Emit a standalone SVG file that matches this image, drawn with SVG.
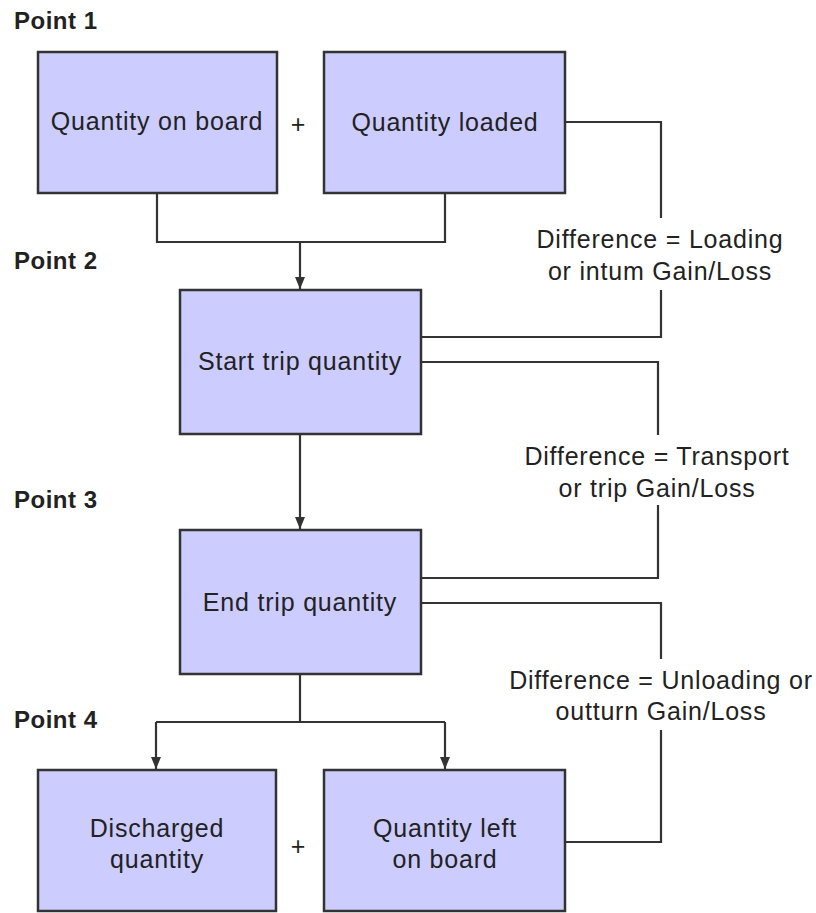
<svg xmlns="http://www.w3.org/2000/svg" width="816" height="913" viewBox="0 0 816 913">
<style>
.box{fill:#ccccff;stroke:#333333;stroke-width:2.5}
.lbl{font-family:"Liberation Sans",Arial,sans-serif;font-size:25px;fill:#222222;text-anchor:middle;letter-spacing:0.8px}
.plus{font-family:"Liberation Sans",Arial,sans-serif;font-size:25px;fill:#222222;text-anchor:middle}
.pt{font-family:"Liberation Sans",Arial,sans-serif;font-size:24px;font-weight:bold;fill:#222222;letter-spacing:0.5px}
.ln{fill:none;stroke:#333333;stroke-width:2.2}
</style>
<defs>
<marker id="arr" viewBox="0 0 12 10" refX="12" refY="5" markerWidth="12" markerHeight="10" markerUnits="userSpaceOnUse" orient="auto">
<path d="M0,0 L12,5 L0,10 z" fill="#333333"/>
</marker>
</defs>
<rect width="816" height="913" fill="#ffffff"/>
<g id="point-labels">
<text class="pt" x="14" y="29">Point 1</text>
<text class="pt" x="14" y="269">Point 2</text>
<text class="pt" x="14" y="508">Point 3</text>
<text class="pt" x="14" y="728">Point 4</text>
</g>
<g id="connectors">
<path class="ln" d="M157,193 V242 H445 V193"/>
<path class="ln" d="M300,242 V289" marker-end="url(#arr)"/>
<path class="ln" d="M300,434 V529" marker-end="url(#arr)"/>
<path class="ln" d="M300,674 V722 M156,722 H445"/>
<path class="ln" d="M156,722 V769" marker-end="url(#arr)"/>
<path class="ln" d="M445,722 V769" marker-end="url(#arr)"/>
<path class="ln" d="M565,122 H661 V218 M661,290 V337 H421"/>
<path class="ln" d="M421,362 H658 V435 M658,505 V578 H421"/>
<path class="ln" d="M421,603 H661 V659 M661,730 V842 H565"/>
</g>
<g id="node-on-board">
<rect class="box" x="38" y="52" width="239" height="141"/>
<text class="lbl" x="157" y="130">Quantity on board</text>
</g>
<g id="plus-top"><text class="plus" x="298" y="133">+</text></g>
<g id="node-loaded">
<rect class="box" x="324" y="52" width="241" height="141"/>
<text class="lbl" x="445" y="131">Quantity loaded</text>
</g>
<g id="node-start-trip">
<rect class="box" x="180" y="290" width="241" height="144"/>
<text class="lbl" x="300" y="370">Start trip quantity</text>
</g>
<g id="node-end-trip">
<rect class="box" x="180" y="530" width="241" height="144"/>
<text class="lbl" x="300" y="611">End trip quantity</text>
</g>
<g id="node-discharged">
<rect class="box" x="38" y="770" width="238" height="141"/>
<text class="lbl" x="157" y="837">Discharged</text>
<text class="lbl" x="157" y="868">quantity</text>
</g>
<g id="plus-bottom"><text class="plus" x="298" y="855">+</text></g>
<g id="node-left-on-board">
<rect class="box" x="324" y="770" width="241" height="141"/>
<text class="lbl" x="445" y="837">Quantity left</text>
<text class="lbl" x="445" y="868">on board</text>
</g>
<g id="diff-labels">
<text class="lbl" x="660" y="248">Difference = Loading</text>
<text class="lbl" x="660" y="280">or intum Gain/Loss</text>
<text class="lbl" x="657" y="465">Difference = Transport</text>
<text class="lbl" x="657" y="497">or trip Gain/Loss</text>
<text class="lbl" x="661" y="689">Difference = Unloading or</text>
<text class="lbl" x="661" y="720">outturn Gain/Loss</text>
</g>
</svg>
